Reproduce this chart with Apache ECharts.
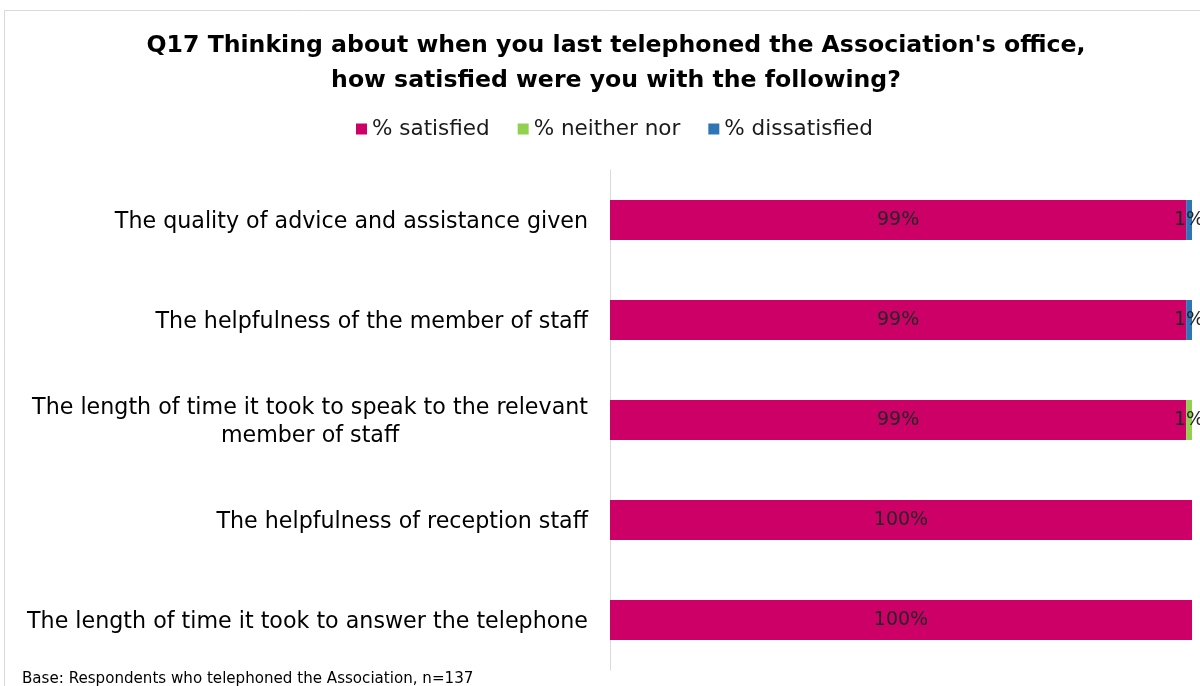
<!DOCTYPE html>
<html>
<head>
<meta charset="utf-8">
<script src="https://cdn.jsdelivr.net/npm/echarts@6/dist/echarts.min.js"></script>
<style>
  html, body { margin: 0; padding: 0; background: #fff; }
  #chart { width: 1200px; height: 686px; }
</style>
</head>
<body>
<div id="chart"></div>
<script>
// Satisfaction with the last phone call to the office, top to bottom
var categories = [
  'The quality of advice and assistance given',
  'The helpfulness of the member of staff',
  'The length of time it took to speak to the relevant\nmember of staff',
  'The helpfulness of reception staff',
  'The length of time it took to answer the telephone'
];
var satisfied    = [99, 99, 99, 100, 100];
var neitherNor   = [0, 0, 1, 0, 0];
var dissatisfied = [1, 1, 0, 0, 0];
var seriesNames = ['% satisfied', '% neither nor', '% dissatisfied'];
var seriesColors = ['#CC0066', '#92D050', '#2E75B6'];

var FONT = 'DejaVu Sans';

function makeSeries(name, data, color) {
  return {
    name: name,
    type: 'bar',
    stack: 'total',
    data: data,
    barWidth: 40,
    itemStyle: { color: color },
    label: {
      show: true,
      position: 'inside',
      color: '#262626',
      fontFamily: FONT,
      fontSize: 19,
      formatter: function (p) { return p.value > 0 ? p.value + '%' : ''; }
    }
  };
}

var chart = echarts.init(document.getElementById('chart'), null, { renderer: 'canvas' });
chart.setOption({
  animation: false,
  backgroundColor: '#fff',
  title: {
    text: "Q17 Thinking about when you last telephoned the Association's office,\nhow satisfied were you with the following?",
    left: 611,
    textAlign: 'center',
    top: 23,
    textStyle: {
      fontFamily: FONT,
      fontWeight: 'bold',
      fontSize: 23.6,
      lineHeight: 35,
      color: '#000'
    }
  },
  legend: {
    top: 113,
    left: 351,
    itemWidth: 11,
    itemHeight: 11,
    itemGap: 28,
    itemTextGap: 5,
    icon: 'rect',
    textStyle: { fontFamily: FONT, fontSize: 21.5, color: '#1a1a1a' },
    data: seriesNames
  },
  grid: { left: 610, right: 8, top: 170, bottom: 16, containLabel: false },
  xAxis: {
    type: 'value',
    min: 0,
    max: 100,
    show: false
  },
  yAxis: {
    type: 'category',
    inverse: true,
    data: categories,
    axisLine: { show: true, lineStyle: { color: '#d9d9d9', width: 1 } },
    axisTick: { show: false },
    axisLabel: {
      margin: 22,
      color: '#000',
      fontFamily: FONT,
      fontSize: 22.2,
      lineHeight: 28,
      formatter: function (v) {
        return v.split('\n').map(function (line) { return '{c|' + line + '}'; }).join('\n');
      },
      rich: {
        c: { fontFamily: FONT, fontSize: 22.2, color: '#000', lineHeight: 28, align: 'center', padding: [4, 0, 0, 0] }
      }
    }
  },
  series: [
    makeSeries(seriesNames[0], satisfied, seriesColors[0]),
    makeSeries(seriesNames[1], neitherNor, seriesColors[1]),
    makeSeries(seriesNames[2], dissatisfied, seriesColors[2])
  ],
  graphic: [
    { type: 'line', shape: { x1: 4.5, y1: 10.5, x2: 1200, y2: 10.5 }, style: { stroke: '#d9d9d9', lineWidth: 1 } },
    { type: 'line', shape: { x1: 4.5, y1: 10.5, x2: 4.5, y2: 686 }, style: { stroke: '#d9d9d9', lineWidth: 1 } },
    {
      type: 'text', left: 22, top: 672,
      style: { text: 'Base: Respondents who telephoned the Association, n=137', font: '15.1px "DejaVu Sans"', fill: '#000' }
    }
  ]
});
</script>
</body>
</html>
